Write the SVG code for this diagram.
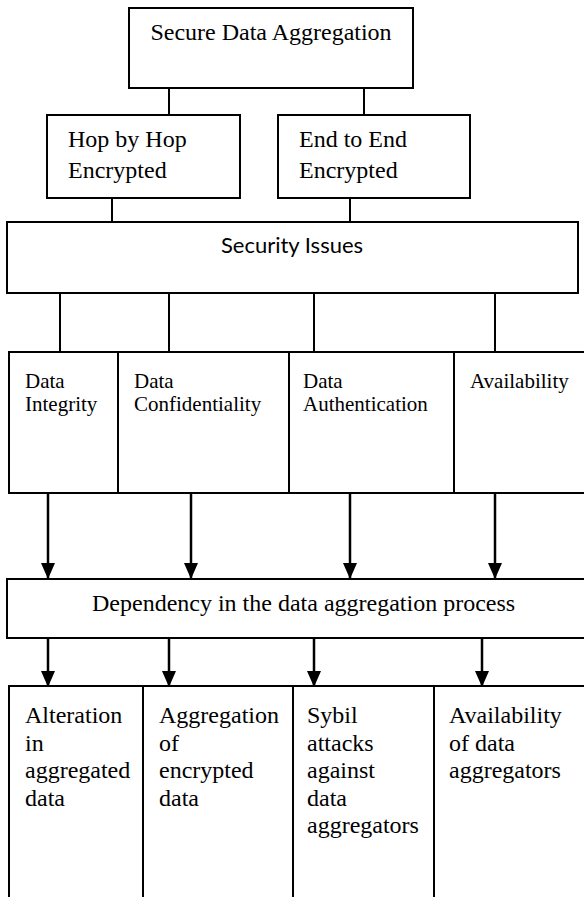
<svg xmlns="http://www.w3.org/2000/svg" width="584" height="897" viewBox="0 0 584 897">
<style>
  .box { fill: #ffffff; stroke: #000000; stroke-width: 2; }
  .ln { stroke: #000000; stroke-width: 2; fill: none; }
  .arr { stroke: #000000; stroke-width: 2.5; fill: none; marker-end: url(#ah); }
  .t24 { font-family: "Liberation Serif", "Times New Roman", serif; font-size: 24px; fill: #000000; }
  .t20 { font-family: "Liberation Serif", "Times New Roman", serif; font-size: 21px; fill: #000000; }
  .sans { font-family: Lato, "Open Sans", sans-serif; font-size: 22px; fill: #000000; }
</style>
<defs>
  <marker id="ah" markerUnits="userSpaceOnUse" markerWidth="16" markerHeight="14" viewBox="0 0 16 14" refX="16" refY="7" orient="auto">
    <path d="M0,0 L16,7 L0,14 Z" fill="#000000"/>
  </marker>
</defs>
<rect width="584" height="897" fill="#ffffff"/>

<g id="connectors">
  <line class="ln" x1="169" y1="88" x2="169" y2="115"/>
  <line class="ln" x1="364" y1="88" x2="364" y2="115"/>
  <line class="ln" x1="112" y1="198" x2="112" y2="222"/>
  <line class="ln" x1="350" y1="198" x2="350" y2="222"/>
  <line class="ln" x1="60" y1="293" x2="60" y2="352"/>
  <line class="ln" x1="169" y1="293" x2="169" y2="352"/>
  <line class="ln" x1="314" y1="293" x2="314" y2="352"/>
  <line class="ln" x1="495" y1="293" x2="495" y2="352"/>
  <line class="arr" x1="48" y1="493" x2="48" y2="579"/>
  <line class="arr" x1="191" y1="493" x2="191" y2="579"/>
  <line class="arr" x1="350" y1="493" x2="350" y2="579"/>
  <line class="arr" x1="495" y1="493" x2="495" y2="579"/>
  <line class="arr" x1="48" y1="638" x2="48" y2="687"/>
  <line class="arr" x1="169" y1="638" x2="169" y2="687"/>
  <line class="arr" x1="314" y1="638" x2="314" y2="687"/>
  <line class="arr" x1="482" y1="638" x2="482" y2="687"/>
</g>

<g id="secure-data-aggregation">
  <rect class="box" x="129" y="8" width="284" height="80"/>
  <text class="t24" x="271" y="40" text-anchor="middle">Secure Data Aggregation</text>
</g>

<g id="hop-by-hop">
  <rect class="box" x="47" y="115" width="193" height="83"/>
  <text class="t24" x="68" y="147">Hop by Hop</text>
  <text class="t24" x="68" y="178">Encrypted</text>
</g>

<g id="end-to-end">
  <rect class="box" x="278" y="115" width="192" height="83"/>
  <text class="t24" x="299" y="147">End to End</text>
  <text class="t24" x="299" y="178">Encrypted</text>
</g>

<g id="security-issues">
  <rect class="box" x="7" y="222" width="571" height="71"/>
  <text class="sans" x="292" y="253" text-anchor="middle">Security Issues</text>
</g>

<g id="data-integrity">
  <rect class="box" x="9" y="352" width="109" height="141"/>
  <text class="t20" x="25" y="388">Data</text>
  <text class="t20" x="25" y="411">Integrity</text>
</g>

<g id="data-confidentiality">
  <rect class="box" x="118" y="352" width="171" height="141"/>
  <text class="t20" x="134" y="388">Data</text>
  <text class="t20" x="134" y="411">Confidentiality</text>
</g>

<g id="data-authentication">
  <rect class="box" x="289" y="352" width="165" height="141"/>
  <text class="t20" x="303" y="388">Data</text>
  <text class="t20" x="303" y="411">Authentication</text>
</g>

<g id="availability">
  <rect class="box" x="454" y="352" width="140" height="141"/>
  <text class="t20" x="470" y="388">Availability</text>
</g>

<g id="dependency">
  <rect class="box" x="7" y="579" width="590" height="59"/>
  <text class="t24" x="92" y="611">Dependency in the data aggregation process</text>
</g>

<g id="alteration">
  <rect class="box" x="9" y="686" width="134" height="220"/>
  <text class="t24" x="25" y="723">Alteration</text>
  <text class="t24" x="25" y="750.6">in</text>
  <text class="t24" x="25" y="778.2">aggregated</text>
  <text class="t24" x="25" y="805.8">data</text>
</g>

<g id="aggregation-encrypted">
  <rect class="box" x="143" y="686" width="150" height="220"/>
  <text class="t24" x="159" y="723">Aggregation</text>
  <text class="t24" x="159" y="750.6">of</text>
  <text class="t24" x="159" y="778.2">encrypted</text>
  <text class="t24" x="159" y="805.8">data</text>
</g>

<g id="sybil-attacks">
  <rect class="box" x="293" y="686" width="141" height="220"/>
  <text class="t24" x="307" y="723">Sybil</text>
  <text class="t24" x="307" y="750.6">attacks</text>
  <text class="t24" x="307" y="778.2">against</text>
  <text class="t24" x="307" y="805.8">data</text>
  <text class="t24" x="307" y="833.4">aggregators</text>
</g>

<g id="availability-aggregators">
  <rect class="box" x="434" y="686" width="160" height="220"/>
  <text class="t24" x="449" y="723">Availability</text>
  <text class="t24" x="449" y="750.6">of data</text>
  <text class="t24" x="449" y="778.2">aggregators</text>
</g>
</svg>
